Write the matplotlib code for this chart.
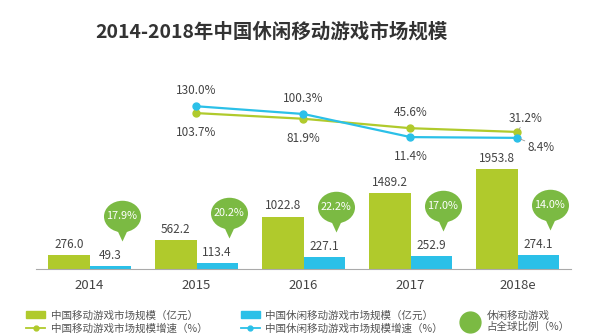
import matplotlib
matplotlib.use('Agg')
import matplotlib.pyplot as plt
import numpy as np
from matplotlib.path import Path
from matplotlib.transforms import Affine2D, offset_copy
from matplotlib.patches import Patch
from matplotlib.lines import Line2D

plt.rcParams['font.family'] = ['Noto Sans CJK SC', 'DejaVu Sans']

years = ['2014', '2015', '2016', '2017', '2018e']
mobile_size = [276.0, 562.2, 1022.8, 1489.2, 1953.8]
casual_size = [49.3, 113.4, 227.1, 252.9, 274.1]
mobile_growth = [None, 103.7, 81.9, 45.6, 31.2]
casual_growth = [None, 130.0, 100.3, 11.4, 8.4]
global_share = [17.9, 20.2, 22.2, 17.0, 14.0]

c_green = '#B0CA2C'
c_blue = '#2BC0E8'
c_bubble = '#7BBA43'
c_text = '#444444'

fig = plt.figure(figsize=(5.94, 3.36), dpi=100)
fig.patch.set_facecolor('white')
ax = fig.add_axes([36/594, 67/336, 535/594, 209/336])
x = np.arange(len(years))
w = 0.385

b1 = ax.bar(x - w/2, mobile_size, w, color=c_green)
b2 = ax.bar(x + w/2, casual_size, w, color=c_blue)
ax.bar_label(b1, labels=['%.1f' % v for v in mobile_size], padding=3, fontsize=8.5, color=c_text)
ax.bar_label(b2, labels=['%.1f' % v for v in casual_size], padding=3, fontsize=8.5, color=c_text)

ax.set_xlim(-0.5, 4.5)
ax.set_ylim(0, 4083)
ax.set_xticks(x)
ax.set_xticklabels(years, fontsize=9.5, color=c_text)
ax.tick_params(axis='x', length=0, pad=7)
ax.set_yticks([])
for s in ['top', 'left', 'right']:
    ax.spines[s].set_visible(False)
ax.spines['bottom'].set_color('#AAAAAA')
ax.patch.set_alpha(0)

# speech bubbles (global share)
circ = Path.unit_circle()
verts = Affine2D().scale(1, 0.85).transform(circ.vertices)
tri = np.array([[-0.3, -0.7], [0.0, -1.35], [0.3, -0.7], [-0.3, -0.7]])
bubble = Path(np.vstack([verts, tri]),
              np.concatenate([circ.codes, [Path.MOVETO, Path.LINETO, Path.LINETO, Path.CLOSEPOLY]]))
trans = offset_copy(ax.transData, fig=fig, x=0, y=50*0.72, units='points')
for i, v in enumerate(global_share):
    ax.plot(x[i] + 0.30, casual_size[i], marker=bubble, ms=36, color=c_bubble,
            mec='none', transform=trans, clip_on=False)
    ax.text(x[i] + 0.30, casual_size[i], '%.1f%%' % v, transform=trans, ha='center',
            va='center', color='white', fontsize=7.8)

# growth lines
ax2 = ax.twinx()
ax2.set_ylim(-496, 308)
ax2.axis('off')
xs = x[1:]
mg = mobile_growth[1:]
cg = casual_growth[1:]
ax2.plot(xs, mg, color=c_green, lw=1.6, marker='o', ms=5)
ax2.plot(xs, cg, color=c_blue, lw=1.6, marker='o', ms=5)

mg_pos = [(0, -14), (0, -14), (0, 11), (0, 11)]
cg_pos = [(0, 11), (0, 11), (0, -14), (0, -14)]
for k in range(len(xs)):
    if k < 3:
        ax2.annotate('%.1f%%' % mg[k], (xs[k], mg[k]), xytext=mg_pos[k], textcoords='offset points',
                     ha='center', va='center', fontsize=8.5, color=c_text)
        ax2.annotate('%.1f%%' % cg[k], (xs[k], cg[k]), xytext=cg_pos[k], textcoords='offset points',
                     ha='center', va='center', fontsize=8.5, color=c_text)
ax2.annotate('%.1f%%' % mg[3], (xs[3], mg[3]), xytext=(6, 10), textcoords='offset points',
             ha='center', va='center', fontsize=8.5, color=c_text,
             arrowprops=dict(arrowstyle='-', color='#999999', lw=0.6, shrinkA=4, shrinkB=2))
ax2.annotate('%.1f%%' % cg[3], (xs[3], cg[3]), xytext=(17, -7), textcoords='offset points',
             ha='center', va='center', fontsize=8.5, color=c_text,
             arrowprops=dict(arrowstyle='-', color='#999999', lw=0.6, shrinkA=8, shrinkB=2))

fig.text(271/594, 1 - 32/336, '2014-2018年中国休闲移动游戏市场规模', ha='center', va='center',
         fontsize=14, fontweight='bold', color='#333333')

handles = [Patch(color=c_green), Line2D([], [], color=c_green, marker='o', ms=3.5, lw=1.3),
           Patch(color=c_blue), Line2D([], [], color=c_blue, marker='o', ms=3.5, lw=1.3)]
labels = ['中国移动游戏市场规模（亿元）', '中国移动游戏市场规模增速（%）',
          '中国休闲移动游戏市场规模（亿元）', '中国休闲移动游戏市场规模增速（%）']
leg = fig.legend(handles, labels, ncol=2, loc='upper left', bbox_to_anchor=(22/594, 1 - 306/336),
                 frameon=False, fontsize=7.6, handlelength=1.8, handleheight=0.7,
                 handletextpad=0.5, columnspacing=3.2, labelspacing=0.3, borderaxespad=0,
                 labelcolor='#555555')
fig.legend([Line2D([], [], color=c_bubble, marker='o', ms=15, lw=0)],
           ['休闲移动游戏\n占全球比例（%）'], loc='upper left',
           bbox_to_anchor=(456/594, 1 - 306/336), frameon=False, fontsize=7.6,
           handlelength=1.8, handletextpad=0.7, borderaxespad=0, labelcolor='#555555')

fig.savefig('out.png', dpi=100, facecolor='white')
